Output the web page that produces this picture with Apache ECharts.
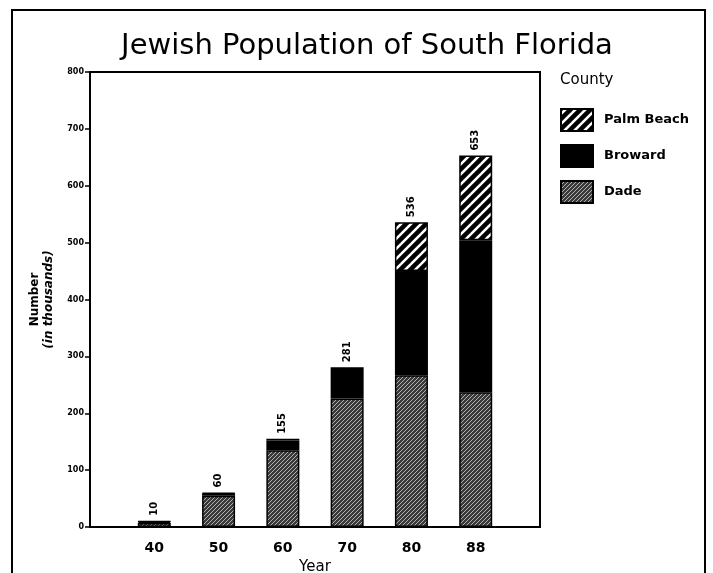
<!DOCTYPE html>
<html>
<head>
<meta charset="utf-8">
<script src="https://cdn.jsdelivr.net/npm/echarts@6/dist/echarts.min.js"></script>
<style>html,body{margin:0;padding:0;background:#fff;overflow:hidden}#c{width:713px;height:573px}</style>
</head>
<body>
<div id="c"></div>
<script>
var categories = ['', '40', '50', '60', '70', '80', '88', ''];
var dade =      ['-', 7, 55, 135, 226, 267, 237, '-'];
var broward =   ['-', 2.5, 4, 17, 50, 183, 267, '-'];
var palmBeach = ['-', 0.5, 1, 3, 5, 86, 149, '-'];
var totals =    ['', 10, 60, 155, 281, 536, 653, ''];
var yTicks = [0, 100, 200, 300, 400, 500, 600, 700, 800];

function diagPattern(s, bg, fg, w) {
  var c = document.createElement('canvas');
  c.width = s; c.height = s;
  var g = c.getContext('2d');
  g.fillStyle = bg; g.fillRect(0, 0, s, s);
  g.strokeStyle = fg; g.lineWidth = w;
  for (var k = -2; k <= 2; k++) {
    g.beginPath(); g.moveTo(k * s - s, 2 * s); g.lineTo(k * s + 2 * s, -s); g.stroke();
  }
  return { image: c, repeat: 'repeat' };
}

var chart = echarts.init(document.getElementById('c'));
var font = 'DejaVu Sans';
var border = { borderColor: '#000', borderWidth: 1.5 };

chart.setOption({
  backgroundColor: '#fff',
  animation: false,
  textStyle: { fontFamily: font, color: '#000' },
  title: [
    { text: 'Jewish Population of South Florida', left: 362, top: 27, textAlign: 'center',
      textStyle: { fontFamily: font, fontSize: 29, fontWeight: 'normal', color: '#000' } },
    { text: 'County', left: 555, top: 68,
      textStyle: { fontFamily: font, fontSize: 15, fontWeight: 'normal', color: '#000' } }
  ],
  legend: {
    orient: 'vertical', left: 555, top: 103, itemWidth: 32, itemHeight: 22, itemGap: 12,
    icon: 'rect',
    data: ['Palm Beach', 'Broward', 'Dade'],
    textStyle: { fontFamily: font, fontSize: 13, fontWeight: 'bold', color: '#000', padding: [9, 0, 0, 6] }
  },
  graphic: [
    { type: 'rect', shape: { x: 12, y: 10, width: 693, height: 580 },
      style: { fill: 'none', stroke: '#000', lineWidth: 2 }, silent: true }
  ],
  grid: { left: 90, right: 173, top: 72, bottom: 46, containLabel: false, outerBoundsMode: 'none',
    show: true, borderColor: '#000', borderWidth: 2, backgroundColor: 'transparent' },
  xAxis: {
    type: 'category', data: categories, boundaryGap: false,
    axisLine: { lineStyle: { color: '#000', width: 2 } },
    axisTick: { show: false },
    axisLabel: { fontFamily: font, fontSize: 14, fontWeight: 'bold', color: '#000', margin: 14 },
    name: 'Year', nameLocation: 'middle', nameGap: 33,
    nameTextStyle: { fontFamily: font, fontSize: 15, color: '#000' }
  },
  yAxis: {
    type: 'value', min: 0, max: 800, interval: 100,
    axisLine: { show: true, lineStyle: { color: '#000', width: 2 } },
    axisTick: { show: true, length: 5, lineStyle: { color: '#000', width: 1.5 } },
    axisLabel: { fontFamily: font, fontSize: 8, fontWeight: 'bold', color: '#000', margin: 6,
      formatter: function (v) { return yTicks.indexOf(v) >= 0 ? String(v) : ''; } },
    splitLine: { show: false },
    name: '{a|Number}\n{b|(in thousands)}', nameLocation: 'middle', nameRotate: 90, nameGap: 34,
    nameTextStyle: { align: 'center', lineHeight: 14,
      rich: { a: { fontFamily: font, fontSize: 12, fontWeight: 'bold', color: '#000', lineHeight: 14 },
              b: { fontFamily: font, fontSize: 12, fontStyle: 'italic', fontWeight: 'bold', color: '#000', lineHeight: 14 } } }
  },
  series: [
    { name: 'Dade', type: 'bar', stack: 'pop', data: dade, barWidth: 33,
      itemStyle: Object.assign({ color: diagPattern(4, '#3a3a3a', '#b0b0b0', 1) }, border) },
    { name: 'Broward', type: 'bar', stack: 'pop', data: broward, barWidth: 33,
      itemStyle: Object.assign({ color: '#000' }, border) },
    { name: 'Palm Beach', type: 'bar', stack: 'pop', data: palmBeach, barWidth: 33,
      itemStyle: Object.assign({ color: diagPattern(10, '#fff', '#000', 4.5) }, border),
      label: { show: true, position: 'top', rotate: 90, align: 'left', verticalAlign: 'middle', distance: 5,
        fontFamily: font, fontSize: 10, fontWeight: 'bold', color: '#000',
        formatter: function (p) { return String(totals[p.dataIndex]); } } }
  ]
});
</script>
</body>
</html>
